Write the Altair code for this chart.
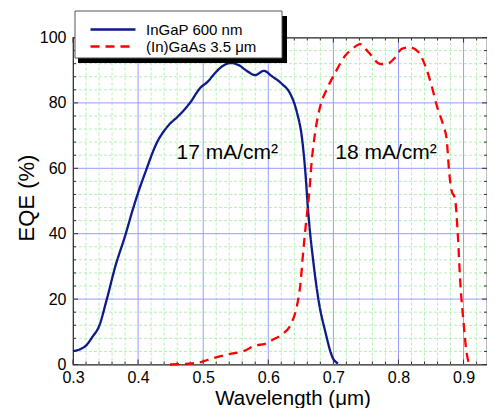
import altair as alt
import pandas as pd

# ---- data ----
ingap_wl = [0.300, 0.310, 0.320, 0.330, 0.340, 0.352, 0.365, 0.380, 0.392, 0.400,
            0.411, 0.429, 0.444, 0.465, 0.480, 0.496, 0.506, 0.519, 0.530, 0.542,
            0.555, 0.567, 0.580, 0.593, 0.606, 0.621, 0.634, 0.644, 0.652, 0.657,
            0.661, 0.670, 0.677, 0.688, 0.698, 0.707]
ingap_eqe = [4.1, 4.6, 5.8, 8.5, 11.7, 20.0, 30.0, 39.3, 47.5, 52.5,
             58.7, 67.9, 72.5, 76.6, 80.1, 84.7, 86.3, 89.3, 91.3, 92.2,
             91.5, 89.8, 88.5, 89.8, 88.1, 85.8, 82.7, 77.1, 68.9, 58.7,
             47.5, 30.1, 19.9, 9.7, 2.5, 0.3]

gaas_wl = [0.449, 0.490, 0.516, 0.540, 0.562, 0.580, 0.595, 0.608, 0.621, 0.636,
           0.644, 0.649, 0.654, 0.658, 0.662, 0.667, 0.672, 0.680, 0.690, 0.703,
           0.718, 0.729, 0.741, 0.754, 0.772, 0.782, 0.795, 0.805, 0.818, 0.831,
           0.841, 0.851, 0.859, 0.869, 0.874, 0.878, 0.881, 0.887, 0.891, 0.895,
           0.900, 0.904, 0.908]
gaas_eqe = [0.0, 0.5, 2.0, 3.2, 4.1, 5.8, 6.3, 7.7, 9.2, 12.8,
            17.9, 24.0, 35.2, 43.4, 50.5, 62.8, 71.0, 79.1, 84.2, 89.3,
            94.4, 96.5, 98.0, 95.5, 91.9, 91.9, 93.9, 96.5, 97.0, 95.5,
            91.4, 85.2, 79.1, 73.0, 68.9, 58.7, 53.6, 50.5, 40.3, 25.0,
            12.8, 4.6, 0.3]

series_names = ["InGaP 600 nm", "(In)GaAs 3.5 \u03bcm"]
series_colors = ["#0c1a8a", "#ff0000"]

x_major = [0.3, 0.4, 0.5, 0.6, 0.7, 0.8, 0.9]
x_minor = [0.32, 0.34, 0.36, 0.38, 0.42, 0.44, 0.46, 0.48, 0.52, 0.54, 0.56, 0.58,
           0.62, 0.64, 0.66, 0.68, 0.72, 0.74, 0.76, 0.78, 0.82, 0.84, 0.86, 0.88,
           0.92, 0.94]
y_major = [0, 20, 40, 60, 80, 100]
y_minor = [4, 8, 12, 16, 24, 28, 32, 36, 44, 48, 52, 56, 64, 68, 72, 76, 84, 88, 92, 96]

annot_text = ["17 mA/cm\u00b2", "18 mA/cm\u00b2"]
annot_wl = [0.459, 0.703]
annot_eqe = [62.8, 62.8]

X_MIN, X_MAX = 0.3, 0.936   # right edge limited by the page width

# ---- tables ----
curves = pd.concat([
    pd.DataFrame({"wl": ingap_wl, "eqe": ingap_eqe, "series": series_names[0]}),
    pd.DataFrame({"wl": gaas_wl, "eqe": gaas_eqe, "series": series_names[1]}),
], ignore_index=True)
xmaj_df = pd.DataFrame({"wl": x_major[1:]})
xmin_df = pd.DataFrame({"wl": [v for v in x_minor if v < X_MAX]})
ymaj_df = pd.DataFrame({"eqe": y_major[1:-1]})
ymin_df = pd.DataFrame({"eqe": y_minor})
xtick_maj = pd.DataFrame({"wl": x_major})
ytick_maj = pd.DataFrame({"eqe": y_major})
annot_df = pd.DataFrame({"wl": annot_wl, "eqe": annot_eqe, "txt": annot_text})

FONT = "Liberation Sans"
xs = alt.Scale(domain=[X_MIN, X_MAX], nice=False, zero=False)
ys = alt.Scale(domain=[0, 100], nice=False, zero=False)

xaxis = alt.Axis(values=x_major, format=".1f", title="Wavelength (\u03bcm)",
                 labelFlush=False, labelPadding=5,
                 titleX=219.5, titleY=40, titleAlign="center",
                 titleBaseline="alphabetic")
yaxis = alt.Axis(values=y_major, format="d", title="EQE (%)", labelPadding=7,
                 titleX=-40, titleY=160, titleAlign="center",
                 titleBaseline="alphabetic", titleAngle=270)


def X(f="wl"):
    return alt.X(f"{f}:Q", scale=xs, axis=xaxis)


def Y(f="eqe"):
    return alt.Y(f"{f}:Q", scale=ys, axis=yaxis)


minor_grid_col = "#b4f0b4"
major_grid_col = "#9a9aff"

gx_min = alt.Chart(xmin_df).mark_rule(color=minor_grid_col, strokeDash=[3, 2], strokeWidth=1).encode(x=X())
gy_min = alt.Chart(ymin_df).mark_rule(color=minor_grid_col, strokeDash=[3, 2], strokeWidth=1).encode(y=Y())
gx_maj = alt.Chart(xmaj_df).mark_rule(color=major_grid_col, strokeWidth=1).encode(x=X())
gy_maj = alt.Chart(ymaj_df).mark_rule(color=major_grid_col, strokeWidth=1).encode(y=Y())

tick_col = "#333333"
tb_min = alt.Chart(xmin_df).mark_rule(color=tick_col, y2Offset=-3).encode(
    x=X(), y=alt.datum(0), y2=alt.datum(0))
tb_maj = alt.Chart(xtick_maj).mark_rule(color=tick_col, y2Offset=-5).encode(
    x=X(), y=alt.datum(0), y2=alt.datum(0))
tt_min = alt.Chart(xmin_df).mark_rule(color=tick_col, y2Offset=3).encode(
    x=X(), y=alt.datum(100), y2=alt.datum(100))
tt_maj = alt.Chart(xtick_maj).mark_rule(color=tick_col, y2Offset=5).encode(
    x=X(), y=alt.datum(100), y2=alt.datum(100))
tl_min = alt.Chart(ymin_df).mark_rule(color=tick_col, x2Offset=3).encode(
    y=Y(), x=alt.datum(X_MIN), x2=alt.datum(X_MIN))
tl_maj = alt.Chart(ytick_maj).mark_rule(color=tick_col, x2Offset=5).encode(
    y=Y(), x=alt.datum(X_MIN), x2=alt.datum(X_MIN))
tr_min = alt.Chart(ymin_df).mark_rule(color=tick_col, x2Offset=-3).encode(
    y=Y(), x=alt.datum(X_MAX), x2=alt.datum(X_MAX))
tr_maj = alt.Chart(ytick_maj).mark_rule(color=tick_col, x2Offset=-5).encode(
    y=Y(), x=alt.datum(X_MAX), x2=alt.datum(X_MAX))

legend = alt.Legend(orient="none", legendX=31, legendY=-17, title=None,
                    symbolType="M-3,0H3", symbolSize=225, symbolStrokeWidth=2.5,
                    labelFont=FONT, labelFontSize=15, labelColor="black",
                    labelOffset=24, rowPadding=0, padding=0)

lines = alt.Chart(curves).mark_line(strokeWidth=2.3, interpolate="monotone").encode(
    x=X(), y=Y(),
    color=alt.Color("series:N", scale=alt.Scale(domain=series_names, range=series_colors),
                    legend=legend),
    strokeDash=alt.StrokeDash("series:N",
                              scale=alt.Scale(domain=series_names, range=[[1, 0], [9, 6]]),
                              legend=legend),
    detail="series:N",
)

annots = alt.Chart(annot_df).mark_text(font=FONT, fontSize=21, align="left",
                                       baseline="alphabetic", color="black").encode(
    x=X(), y=Y(), text="txt:N")

one = alt.Data(values=[{"k": 1}])
shadow = alt.Chart(one).mark_rect(color="black").encode(
    x=alt.value(5), x2=alt.value(214), y=alt.value(-21.5), y2=alt.value(25.5))
box = alt.Chart(one).mark_rect(fill="white", stroke="#555555", strokeWidth=1).encode(
    x=alt.value(2), x2=alt.value(209), y=alt.value(-26.5), y2=alt.value(20.5))

chart = alt.layer(
    gx_min, gy_min, gx_maj, gy_maj,
    tb_min, tb_maj, tt_min, tt_maj, tl_min, tl_maj, tr_min, tr_maj,
    lines, annots, shadow, box,
).properties(
    width=414, height=327,
    autosize=alt.AutoSizeParams(type="none"),
    padding={"left": 65, "top": 29.5, "right": 0, "bottom": 43},
).configure_view(
    stroke="#222222", strokeWidth=1.2
).configure_axis(
    domain=False, ticks=False, grid=False,
    labelFont=FONT, labelFontSize=16, labelColor="black",
    titleFont=FONT, titleFontWeight="normal", titleColor="black",
).configure_axisX(titleFontSize=20.5).configure_axisY(titleFontSize=22
).configure_legend(labelFont=FONT, labelFontSize=15, labelColor="black")

chart.save("out.html", embed_options={"renderer": "svg", "actions": False})
